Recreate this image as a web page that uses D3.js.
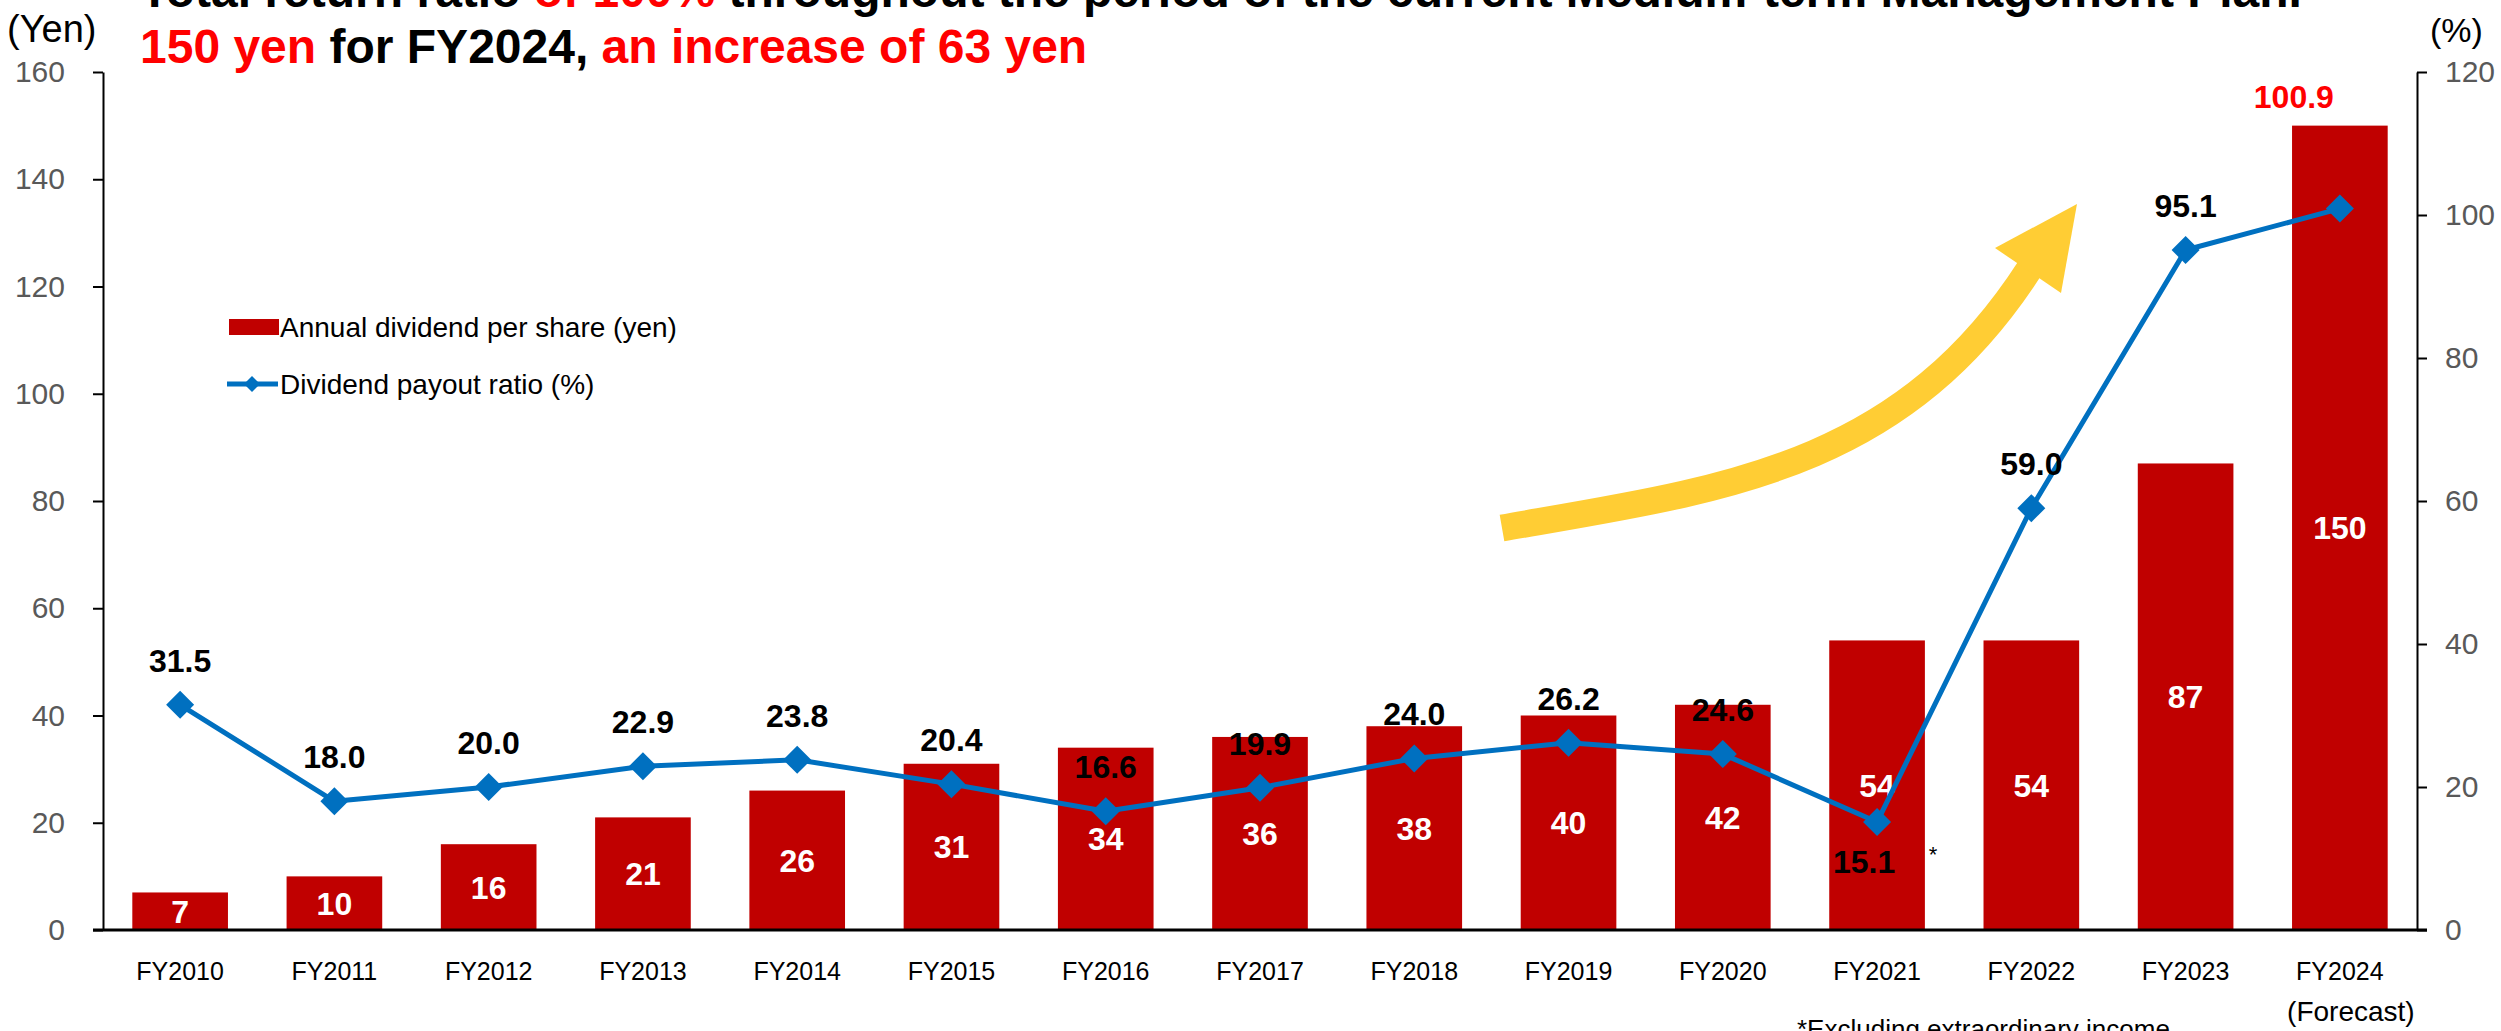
<!DOCTYPE html>
<html>
<head>
<meta charset="utf-8">
<script src="https://cdn.jsdelivr.net/npm/d3@7"></script>
<style>
  html, body { margin: 0; padding: 0; background: #fff; overflow: hidden; }
  svg { display: block; font-family: "Liberation Sans", Arial, sans-serif; }
</style>
</head>
<body>
<svg id="chart" width="2501" height="1031"></svg>
<script>
// ---- data ----
const categories = ['FY2010','FY2011','FY2012','FY2013','FY2014','FY2015','FY2016','FY2017','FY2018','FY2019','FY2020','FY2021','FY2022','FY2023','FY2024'];
const dividends = [7, 10, 16, 21, 26, 31, 34, 36, 38, 40, 42, 54, 54, 87, 150];
const payoutRatios = [31.5, 18.0, 20.0, 22.9, 23.8, 20.4, 16.6, 19.9, 24.0, 26.2, 24.6, 15.1, 59.0, 95.1, 100.9];
const yenTicks = [0, 20, 40, 60, 80, 100, 120, 140, 160];
const pctTicks = [0, 20, 40, 60, 80, 100, 120];
const seriesNames = ['Annual dividend per share (yen)', 'Dividend payout ratio (%)'];
const titleLine1 = [
  {t: 'Total return ratio ', red: false},
  {t: 'of 100%', red: true},
  {t: ' throughout the period of the current Medium-term Management Plan.', red: false}
];
const titleLine2 = [
  {t: '150 yen', red: true},
  {t: ' for FY2024, ', red: false},
  {t: 'an increase of 63 yen', red: true}
];

// ---- layout ----
const W = 2501, H = 1031;
const plot = {left: 103, right: 2417, top: 72, bottom: 930};
const BAR = '#C00000', LINE = '#0070C0', RED = '#FF0000', GRAY = '#595959', YELLOW = '#FFCD34';

const svg = d3.select('#chart');

const x = d3.scaleBand().domain(categories).range([plot.left, plot.right]).paddingInner(0.38).paddingOuter(0.19);
const yYen = d3.scaleLinear().domain([0, 160]).range([plot.bottom, plot.top]);
const yPct = d3.scaleLinear().domain([0, 120]).range([plot.bottom, plot.top]);
const cx = c => x(c) + x.bandwidth() / 2;

// ---- title ----
function titleLine(parts, y) {
  const t = svg.append('text').attr('x', 140).attr('y', y)
    .attr('font-size', 48).attr('font-weight', 'bold');
  parts.forEach(p => t.append('tspan').text(p.t).attr('fill', p.red ? RED : '#000'));
}
titleLine(titleLine1, 7);
titleLine(titleLine2, 63);

// axis unit labels
svg.append('text').attr('x', 7).attr('y', 42).attr('font-size', 38).attr('fill', '#000').text('(Yen)');
svg.append('text').attr('x', 2430).attr('y', 42).attr('font-size', 34).attr('fill', '#000').text('(%)');

// ---- yellow arrow (decoration) ----
svg.append('path')
  .attr('d', 'M1502,528 C1720,490 1900,470 2030,268')
  .attr('fill', 'none').attr('stroke', YELLOW).attr('stroke-width', 27).attr('stroke-linecap', 'butt');
svg.append('path')
  .attr('d', 'M2077,204 L1995,248 L2061,293 Z')
  .attr('fill', YELLOW);

// ---- bars ----
svg.append('g').selectAll('rect').data(categories).join('rect')
  .attr('x', c => x(c))
  .attr('width', x.bandwidth())
  .attr('y', (c, i) => yYen(dividends[i]))
  .attr('height', (c, i) => yYen(0) - yYen(dividends[i]))
  .attr('fill', BAR);

// ---- axes ----
const axisStyle = g => {
  g.select('.domain').attr('stroke', '#000').attr('stroke-width', 2);
  g.selectAll('.tick line').attr('stroke', '#000').attr('stroke-width', 2);
  g.selectAll('.tick text').attr('fill', GRAY).attr('font-size', 30)
    .attr('font-family', '"Liberation Sans", Arial, sans-serif');
};
svg.append('g').attr('transform', `translate(${plot.left},0)`)
  .call(d3.axisLeft(yYen).tickValues(yenTicks).tickSize(10).tickSizeOuter(0).tickPadding(28))
  .call(axisStyle);
svg.append('g').attr('transform', `translate(${plot.right},0)`)
  .call(d3.axisRight(yPct).tickValues(pctTicks).tickSize(10).tickSizeOuter(0).tickPadding(18))
  .call(axisStyle);
const xAxis = svg.append('g').attr('transform', `translate(0,${plot.bottom})`)
  .call(d3.axisBottom(x).tickSize(0).tickPadding(32).tickSizeOuter(0));
xAxis.select('.domain').attr('stroke', '#000').attr('stroke-width', 3)
  .attr('d', `M${plot.left - 10},0H${plot.right + 10}`);
xAxis.selectAll('.tick text').attr('fill', '#000').attr('font-size', 25)
  .attr('font-family', '"Liberation Sans", Arial, sans-serif');

svg.append('text').attr('x', cx('FY2024') + 11).attr('y', 1021).attr('text-anchor', 'middle')
  .attr('font-size', 28).attr('fill', '#000').text('(Forecast)');
svg.append('text').attr('x', 1797).attr('y', 1038)
  .attr('font-size', 26).attr('fill', '#000').text('*Excluding extraordinary income');

// ---- bar value labels ----
svg.append('g').selectAll('text').data(categories).join('text')
  .attr('x', c => cx(c))
  .attr('y', (c, i) => (yYen(dividends[i]) + yYen(0)) / 2)
  .attr('dy', '0.36em')
  .attr('text-anchor', 'middle')
  .attr('font-size', 32).attr('font-weight', 'bold').attr('fill', '#fff')
  .text((c, i) => dividends[i]);

// ---- payout line ----
const line = d3.line().x((d, i) => cx(categories[i])).y(d => yPct(d));
svg.append('path').datum(payoutRatios)
  .attr('d', line).attr('fill', 'none').attr('stroke', LINE).attr('stroke-width', 5)
  .attr('stroke-linejoin', 'round');
const diamond = r => `M0,${-r}L${r},0L0,${r}L${-r},0Z`;
svg.append('g').selectAll('path').data(payoutRatios).join('path')
  .attr('transform', (d, i) => `translate(${cx(categories[i])},${yPct(d)})`)
  .attr('d', diamond(14)).attr('fill', LINE);

// payout labels
const labelStyle = {
  FY2021: {dx: -13, dy: 51, color: '#000'},
  FY2024: {dx: -46, dy: -101, color: RED}
};
svg.append('g').selectAll('text').data(payoutRatios).join('text')
  .attr('x', (d, i) => cx(categories[i]) + (labelStyle[categories[i]] ? labelStyle[categories[i]].dx : 0))
  .attr('y', (d, i) => yPct(d) + (labelStyle[categories[i]] ? labelStyle[categories[i]].dy : -33))
  .attr('text-anchor', 'middle')
  .attr('font-size', 32).attr('font-weight', 'bold')
  .attr('fill', (d, i) => labelStyle[categories[i]] ? labelStyle[categories[i]].color : '#000')
  .text(d => d.toFixed(1));

// asterisk for FY2021
svg.append('text').attr('x', cx('FY2021') + 56).attr('y', yPct(payoutRatios[11]) + 40)
  .attr('text-anchor', 'middle').attr('font-size', 22).attr('fill', '#000').text('*');

// ---- legend ----
const lg = svg.append('g');
lg.append('rect').attr('x', 229).attr('y', 319).attr('width', 50).attr('height', 16).attr('fill', BAR);
lg.append('text').attr('x', 280).attr('y', 337).attr('font-size', 28).attr('fill', '#000').text(seriesNames[0]);
lg.append('line').attr('x1', 227).attr('x2', 278).attr('y1', 384).attr('y2', 384)
  .attr('stroke', LINE).attr('stroke-width', 5);
lg.append('path').attr('transform', 'translate(252,384)').attr('d', diamond(8)).attr('fill', LINE);
lg.append('text').attr('x', 280).attr('y', 394).attr('font-size', 28).attr('fill', '#000').text(seriesNames[1]);
</script>
</body>
</html>
